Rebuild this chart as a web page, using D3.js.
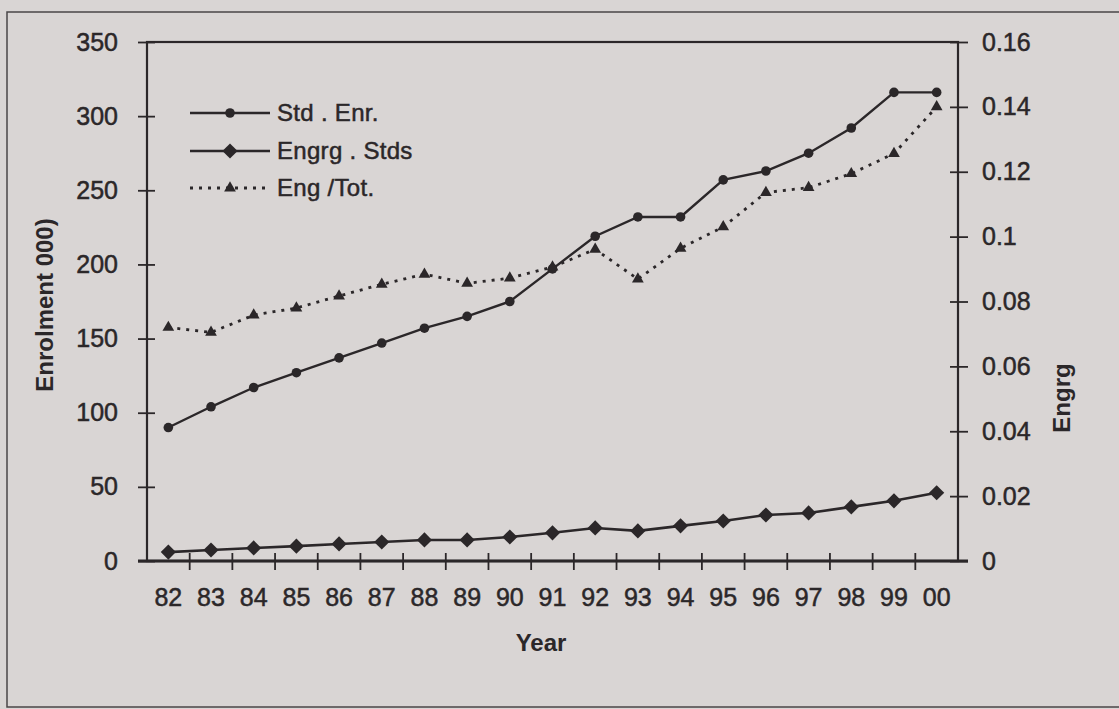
<!DOCTYPE html>
<html>
<head>
<meta charset="utf-8">
<script src="https://cdn.jsdelivr.net/npm/d3@7"></script>
<style>
  html, body { margin: 0; padding: 0; background: #d9d5d4; }
  svg { display: block; }
  text { font-family: "Liberation Sans", Arial, sans-serif; fill: #2b2729; }
  .heavy { stroke: #2b2729; stroke-width: 0.5px; }
</style>
</head>
<body>
<div id="chart"></div>
<script>
// years on the category axis
const years = ["82","83","84","85","86","87","88","89","90","91","92","93","94","95","96","97","98","99","00"];

// total student enrolment (thousands, left axis)
const stdEnr = [90, 104, 117, 127, 137, 147, 157, 165, 175, 197, 219, 232, 232, 257, 263, 275, 292, 316, 316];

// engineering students (thousands, left axis)
const engrgStds = [6, 7.4, 8.8, 10, 11.5, 12.8, 14.2, 14.2, 16.2, 19, 22.3, 20.3, 23.7, 27, 31, 32.4, 36.5, 40.6, 46];

// engineering / total ratio (right axis)
const engTot = [0.072, 0.0705, 0.0758, 0.078, 0.0817, 0.0853, 0.0884, 0.0856, 0.0872, 0.0906, 0.0961, 0.0869, 0.0964, 0.103, 0.1136, 0.1151, 0.1194, 0.1256, 0.140];

const leftTicks = [0, 50, 100, 150, 200, 250, 300, 350];
const rightTicks = [0, 0.02, 0.04, 0.06, 0.08, 0.1, 0.12, 0.14, 0.16];

const W = 1119, H = 709;
const margin = {top: 42, right: 161, bottom: 148, left: 147};
const ink = "#2b2729";

const svg = d3.select("#chart").append("svg")
    .attr("width", W)
    .attr("height", H);

// outer frame of the figure
svg.append("rect")
    .attr("x", 7).attr("y", 12)
    .attr("width", 1200).attr("height", 695)
    .attr("fill", "none")
    .attr("stroke", "#4a4547")
    .attr("stroke-width", 1.5);

const x = d3.scaleBand()
    .domain(years)
    .range([margin.left, W - margin.right])
    .padding(0);

const yL = d3.scaleLinear()
    .domain([0, 350])
    .range([H - margin.bottom, margin.top]);

const yR = d3.scaleLinear()
    .domain([0, 0.16])
    .range([H - margin.bottom, margin.top]);

const x0 = margin.left, x1 = W - margin.right;
const yBase = H - margin.bottom, yTop = margin.top;

// plot box
svg.append("rect")
    .attr("x", x0).attr("y", yTop)
    .attr("width", x1 - x0).attr("height", yBase - yTop)
    .attr("fill", "none")
    .attr("stroke", ink)
    .attr("stroke-width", 2.2);

// thicker baseline
svg.append("line")
    .attr("x1", x0 - 9).attr("x2", x1 + 10)
    .attr("y1", yBase).attr("y2", yBase)
    .attr("stroke", ink).attr("stroke-width", 2.8);

// left axis
const leftAxis = svg.append("g")
    .attr("transform", `translate(${x0},0)`)
    .call(d3.axisLeft(yL).tickValues(leftTicks).tickSize(9));
leftAxis.select(".domain").remove();
leftAxis.selectAll(".tick line")
    .attr("x2", 8)
    .attr("x1", -9)
    .attr("stroke", ink).attr("stroke-width", 1.8);
leftAxis.selectAll(".tick text")
    .attr("class", "heavy")
    .style("font-size", "25px")
    .attr("fill", ink)
    .attr("x", -29);

// right axis
const rightAxis = svg.append("g")
    .attr("transform", `translate(${x1},0)`)
    .call(d3.axisRight(yR).tickValues(rightTicks).tickSize(9).tickFormat(d => d === 0 ? "0" : String(+d.toFixed(2))));
rightAxis.select(".domain").remove();
rightAxis.selectAll(".tick line")
    .attr("x1", -8)
    .attr("x2", 10)
    .attr("stroke", ink).attr("stroke-width", 1.8);
rightAxis.selectAll(".tick text")
    .attr("class", "heavy")
    .style("font-size", "25px")
    .attr("fill", ink)
    .attr("x", 24);

// bottom axis: labels centred on bands, ticks on band edges
const bottomAxis = svg.append("g")
    .attr("transform", `translate(0,${yBase})`)
    .call(d3.axisBottom(x).tickSize(0).tickPadding(27));
bottomAxis.select(".domain").remove();
bottomAxis.selectAll(".tick text")
    .attr("class", "heavy")
    .style("font-size", "25px")
    .attr("fill", ink);

svg.append("g")
    .selectAll("line")
    .data(years.slice(1))
    .join("line")
    .attr("x1", d => x(d)).attr("x2", d => x(d))
    .attr("y1", yBase - 8).attr("y2", yBase + 9)
    .attr("stroke", ink).attr("stroke-width", 1.8);

// axis titles
svg.append("text")
    .attr("transform", `translate(53,305) rotate(-90)`)
    .attr("text-anchor", "middle")
    .style("font-size", "24px")
    .style("font-weight", "bold")
    .text("Enrolment 000)");

svg.append("text")
    .attr("transform", `translate(1070,398) rotate(-90)`)
    .attr("text-anchor", "middle")
    .style("font-size", "24px")
    .style("font-weight", "bold")
    .text("Engrg");

svg.append("text")
    .attr("x", 541).attr("y", 651)
    .attr("text-anchor", "middle")
    .style("font-size", "24px")
    .style("font-weight", "bold")
    .text("Year");

const cx = d => x(d) + x.bandwidth() / 2;

// series
const lineL = vals => d3.line()
    .x((d, i) => cx(years[i]))
    .y(d => yL(d))(vals);

const lineR = vals => d3.line()
    .x((d, i) => cx(years[i]))
    .y(d => yR(d))(vals);

svg.append("path")
    .attr("d", lineR(engTot))
    .attr("fill", "none")
    .attr("stroke", ink)
    .attr("stroke-width", 2.8)
    .attr("stroke-dasharray", "3,6");

svg.append("path")
    .attr("d", lineL(stdEnr))
    .attr("fill", "none")
    .attr("stroke", ink)
    .attr("stroke-width", 2.4);

svg.append("path")
    .attr("d", lineL(engrgStds))
    .attr("fill", "none")
    .attr("stroke", ink)
    .attr("stroke-width", 2.6);

const diamond = d3.symbol().type(d3.symbolSquare).size(115);
const tri = d3.symbol().type(d3.symbolTriangle).size(60);

svg.append("g").selectAll("circle")
    .data(stdEnr)
    .join("circle")
    .attr("cx", (d, i) => cx(years[i]))
    .attr("cy", d => yL(d))
    .attr("r", 4.8)
    .attr("fill", ink);

svg.append("g").selectAll("path")
    .data(engrgStds)
    .join("path")
    .attr("d", diamond)
    .attr("transform", (d, i) => `translate(${cx(years[i])},${yL(d)}) rotate(45)`)
    .attr("fill", ink);

svg.append("g").selectAll("path")
    .data(engTot)
    .join("path")
    .attr("d", tri)
    .attr("transform", (d, i) => `translate(${cx(years[i])},${yR(d)})`)
    .attr("fill", ink);

// legend
const legendItems = [
    {label: "Std . Enr.", marker: "circle", dash: null},
    {label: "Engrg . Stds", marker: "diamond", dash: null},
    {label: "Eng /Tot.", marker: "triangle", dash: "3,6"}
];
const legendY = [113, 151, 188];

const legend = svg.append("g");
legendItems.forEach((item, i) => {
    const g = legend.append("g").attr("transform", `translate(190,${legendY[i]})`);
    g.append("line")
        .attr("x1", 0).attr("x2", 80)
        .attr("stroke", ink)
        .attr("stroke-width", item.dash ? 2.8 : 2.4)
        .attr("stroke-dasharray", item.dash);
    if (item.marker === "circle") {
        g.append("circle").attr("cx", 40).attr("r", 4.8).attr("fill", ink);
    } else if (item.marker === "diamond") {
        g.append("path").attr("d", diamond).attr("transform", "translate(40,0) rotate(45)").attr("fill", ink);
    } else {
        g.append("path").attr("d", tri).attr("transform", "translate(40,0)").attr("fill", ink);
    }
    g.append("text")
        .attr("class", "heavy")
        .attr("x", 87).attr("y", 0)
        .attr("dy", "0.35em")
        .style("font-size", "24px")
        .style("letter-spacing", "0.3px")
        .text(item.label);
});
</script>
</body>
</html>
